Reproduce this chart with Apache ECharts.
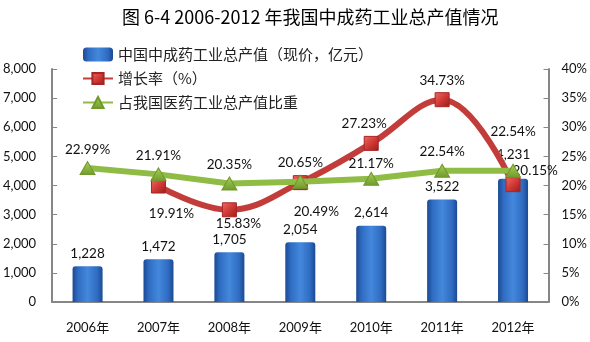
<!DOCTYPE html>
<html>
<head>
<meta charset="utf-8">
<script src="https://cdn.jsdelivr.net/npm/echarts@6/dist/echarts.min.js"></script>
<style>
  html, body { margin: 0; padding: 0; background: #fff; }
  #chart { width: 590px; height: 342px; }
</style>
</head>
<body>
<div id="chart"></div>
<script>
// 2006-2012 output of China's traditional Chinese medicine industry
const years = ['2006年', '2007年', '2008年', '2009年', '2010年', '2011年', '2012年'];
const outputValue = [1228, 1472, 1705, 2054, 2614, 3522, 4231];          // 亿元
const growthRate = [null, 19.91, 15.83, 20.49, 27.23, 34.73, 20.15];     // %
const shareOfPharma = [22.99, 21.91, 20.35, 20.65, 21.17, 22.54, 22.54]; // %

const leftTicks = { min: 0, max: 8000, interval: 1000 };
const rightTicks = { min: 0, max: 40, interval: 5 };

const numFont = 'Lato, "Noto Sans CJK SC", sans-serif';
const cjkFont = '"Noto Sans CJK SC", sans-serif';

// per-point label placement
const barLabelOffset = [[0, 0], [0, 0], [0, 0], [0, 0], [0, 0], [0, 0], [0, -11]];
const rateLabelCfg = [
  null,
  { position: 'bottom', offset: [13, 8] },
  { position: 'bottom', offset: [9, -5] },
  { position: 'bottom', offset: [16, 10] },
  { position: 'top', offset: [-7, 0] },
  { position: 'top', offset: [0, 0] },
  { position: 'right', offset: [-13, -14] }
];
const shareLabelOffset = [[0, 0], [0, 0], [0, 0], [0, 0], [0, 4], [0, 0], [0, -20]];

const fmtThousands = v => String(v).replace(/\B(?=(\d{3})+(?!\d))/g, ',');

const barColor = new echarts.graphic.LinearGradient(0, 0, 1, 0, [
  { offset: 0, color: '#1b4a92' },
  { offset: 0.18, color: '#2f6cc2' },
  { offset: 0.5, color: '#4388dc' },
  { offset: 0.82, color: '#2f6cc2' },
  { offset: 1, color: '#1b4a92' }
]);
const squareColor = new echarts.graphic.LinearGradient(0, 0, 1, 1, [
  { offset: 0, color: '#f06a66' },
  { offset: 0.5, color: '#d03a36' },
  { offset: 1, color: '#9c1a18' }
]);
const triColor = new echarts.graphic.LinearGradient(0, 0, 0, 1, [
  { offset: 0, color: '#a8cf5c' },
  { offset: 1, color: '#6f9a2a' }
]);

const labelText = { fontFamily: numFont, fontSize: 13.5, color: '#111' };

const chart = echarts.init(document.getElementById('chart'), null, { renderer: 'canvas' });

chart.setOption({
  animation: false,
  backgroundColor: '#fff',
  title: {
    text: '图 6-4 2006-2012 年我国中成药工业总产值情况',
    left: 122,
    top: 8,
    padding: 0,
    textStyle: { fontFamily: cjkFont, fontSize: 18, fontWeight: 'normal', color: '#000' }
  },
  legend: {
    orient: 'vertical',
    left: 82,
    top: 47,
    padding: 0,
    itemGap: 9,
    itemWidth: 30,
    itemHeight: 14,
    textStyle: { fontFamily: cjkFont, fontSize: 15, lineHeight: 14, color: '#222' },
    data: ['中国中成药工业总产值（现价，亿元）', '增长率（%）', '占我国医药工业总产值比重']
  },
  grid: { left: 51, right: 41, top: 69, bottom: 40, containLabel: false },
  xAxis: {
    type: 'category',
    data: years,
    boundaryGap: true,
    axisLine: { lineStyle: { color: '#868686', width: 2 } },
    axisTick: { inside: true, length: 4, lineStyle: { color: '#868686' } },
    axisLabel: { margin: 19, fontFamily: numFont, fontSize: 13, color: '#111' }
  },
  yAxis: [
    {
      type: 'value',
      min: leftTicks.min,
      max: leftTicks.max,
      interval: leftTicks.interval,
      axisLine: { show: true, lineStyle: { color: '#868686', width: 2 } },
      axisTick: { show: true, inside: true, length: 5, lineStyle: { color: '#868686' } },
      splitLine: { show: false },
      axisLabel: { margin: 16, fontFamily: numFont, fontSize: 13, color: '#111', formatter: fmtThousands }
    },
    {
      type: 'value',
      position: 'right',
      min: rightTicks.min,
      max: rightTicks.max,
      interval: rightTicks.interval,
      axisLine: { show: true, lineStyle: { color: '#868686', width: 2 } },
      axisTick: { show: true, inside: true, length: 5, lineStyle: { color: '#868686' } },
      splitLine: { show: false },
      axisLabel: { margin: 13, fontFamily: numFont, fontSize: 13, color: '#111', formatter: '{value}%' }
    }
  ],
  series: [
    {
      name: '中国中成药工业总产值（现价，亿元）',
      type: 'bar',
      yAxisIndex: 0,
      barWidth: 30,
      itemStyle: { color: barColor, borderRadius: [3, 3, 0, 0] },
      data: outputValue.map((v, i) => ({
        value: v,
        label: { offset: barLabelOffset[i] }
      })),
      label: {
        show: true,
        position: 'top',
        distance: 6,
        ...labelText,
        formatter: p => fmtThousands(p.value)
      }
    },
    {
      name: '增长率（%）',
      type: 'line',
      yAxisIndex: 1,
      smooth: 0.4,
      symbol: 'rect',
      symbolSize: 14,
      lineStyle: { color: '#c23c3a', width: 6 },
      itemStyle: { color: squareColor, borderColor: '#a52624', borderWidth: 1 },
      data: growthRate.map((v, i) => ({
        value: v,
        label: rateLabelCfg[i] || {}
      })),
      label: {
        show: true,
        ...labelText,
        formatter: p => p.value.toFixed(2) + '%'
      },
      z: 3
    },
    {
      name: '占我国医药工业总产值比重',
      type: 'line',
      yAxisIndex: 1,
      smooth: false,
      symbol: 'triangle',
      symbolSize: [15, 13],
      lineStyle: { color: '#8fbc44', width: 6 },
      itemStyle: { color: triColor, borderColor: '#6f9a2a', borderWidth: 1 },
      data: shareOfPharma.map((v, i) => ({
        value: v,
        label: { offset: shareLabelOffset[i] }
      })),
      label: {
        show: true,
        position: 'top',
        ...labelText,
        formatter: p => p.value.toFixed(2) + '%'
      },
      z: 4
    }
  ]
});
</script>
</body>
</html>
